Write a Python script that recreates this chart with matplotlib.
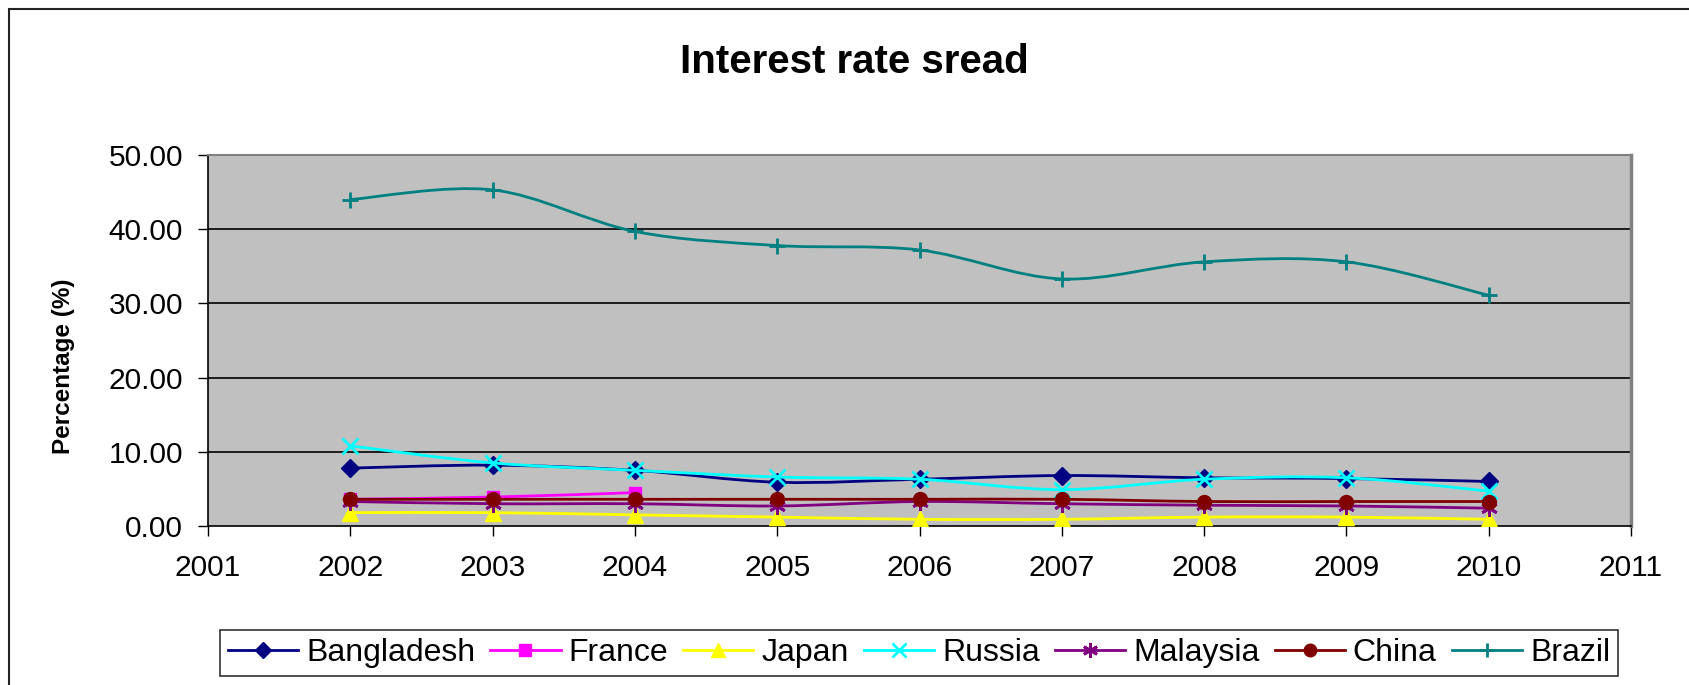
import matplotlib.pyplot as plt
from matplotlib.lines import Line2D
from matplotlib.path import Path
from matplotlib.patches import PathPatch, Rectangle

plt.rcParams["font.family"] = ["Liberation Sans", "DejaVu Sans"]

# === DATA ===
years = [2002, 2003, 2004, 2005, 2006, 2007, 2008, 2009, 2010]
years_france = [2002, 2003, 2004]

bangladesh = [7.8, 8.2, 7.5, 5.9, 6.3, 6.8, 6.5, 6.4, 6.0]
france = [3.6, 3.9, 4.5]
japan = [1.8, 1.8, 1.5, 1.2, 0.9, 0.9, 1.2, 1.2, 0.9]
russia = [10.8, 8.5, 7.5, 6.6, 6.3, 4.9, 6.3, 6.5, 4.7]
malaysia = [3.3, 3.0, 3.0, 2.7, 3.3, 3.0, 2.8, 2.7, 2.4]
china = [3.6, 3.6, 3.6, 3.6, 3.6, 3.6, 3.3, 3.3, 3.3]
brazil = [44.0, 45.3, 39.7, 37.8, 37.2, 33.3, 35.6, 35.6, 31.1]

series = [
    ("Bangladesh", years, bangladesh, "#000080", "D", 9),
    ("France", years_france, france, "#FF00FF", "s", 9),
    ("Japan", years, japan, "#FFFF00", "^", 11),
    ("Russia", years, russia, "#00FFFF", "x", 11),
    ("Malaysia", years, malaysia, "#800080", (6, 2, 0), 12),
    ("China", years, china, "#800000", "o", 10),
    ("Brazil", years, brazil, "#008080", "+", 11),
]


def smooth_path(xs, ys):
    """Excel-achtige smooth line: Catmull-Rom omgezet naar Bezier (CURVE4)."""
    pts = list(zip(xs, ys))
    verts = [pts[0]]
    codes = [Path.MOVETO]
    n = len(pts)
    for i in range(n - 1):
        p0 = pts[i - 1] if i > 0 else pts[i]
        p1 = pts[i]
        p2 = pts[i + 1]
        p3 = pts[i + 2] if i + 2 < n else pts[i + 1]
        c1 = (p1[0] + (p2[0] - p0[0]) / 6, p1[1] + (p2[1] - p0[1]) / 6)
        c2 = (p2[0] - (p3[0] - p1[0]) / 6, p2[1] - (p3[1] - p1[1]) / 6)
        verts += [c1, c2, p2]
        codes += [Path.CURVE4] * 3
    return Path(verts, codes)


W, H = 1690, 685
fig = plt.figure(figsize=(W / 100, H / 100), dpi=100)
fig.patches.append(Rectangle((9 / W, -0.05), 1.2, 1 - 9 / H + 0.05, transform=fig.transFigure,
                             fill=False, edgecolor="#222222", linewidth=1.5))

ax = fig.add_axes([208 / W, 1 - 526 / H, (1631 - 208) / W, (526 - 155) / H])
ax.set_facecolor("#C0C0C0")

for y in [10, 20, 30, 40]:
    ax.axhline(y, color="black", linewidth=1.2, zorder=1)

handles = []
for name, xs, ys, col, mk, ms in series:
    mew = 2 if mk in ("x", "+", (6, 2, 0)) else 1
    ax.add_patch(PathPatch(smooth_path(xs, ys), fill=False, edgecolor=col, linewidth=2, zorder=3))
    ax.plot(xs, ys, linestyle="none", marker=mk, markersize=ms, color=col,
            markeredgewidth=mew, zorder=3)
    handles.append(Line2D([], [], color=col, linewidth=2, marker=mk, markersize=ms * 0.9,
                          markeredgewidth=mew, label=name))

ax.set_xlim(2001, 2011)
ax.set_ylim(0, 50)
ax.set_xticks(range(2001, 2012))
ax.set_yticks(range(0, 51, 10))
ax.set_yticklabels([f"{v:.2f}" for v in range(0, 51, 10)])
ax.tick_params(axis="both", labelsize=21.5, length=7, width=1, direction="out")
ax.tick_params(axis="x", pad=13)
ax.tick_params(axis="y", pad=11)

ax.spines["left"].set_color("black")
ax.spines["bottom"].set_color("black")
ax.spines["left"].set_linewidth(1.2)
ax.spines["bottom"].set_linewidth(1.2)
ax.spines["top"].set_color("#808080")
ax.spines["right"].set_color("#808080")
ax.spines["right"].set_linewidth(2.5)
ax.spines["top"].set_linewidth(1.5)

fig.text(64 / W, 1 - 366 / H, "Percentage (%)", rotation=90, ha="center", va="center",
         fontsize=17.5, fontweight="bold")
fig.text(854 / W, 1 - 62 / H, "Interest rate sread", ha="center", va="center",
         fontsize=29, fontweight="bold")

leg = fig.legend(handles=handles, loc="center", bbox_to_anchor=(919 / W, 1 - 653 / H),
                 ncol=7, fontsize=23, frameon=True, fancybox=False, handlelength=2.2,
                 handletextpad=0.25, columnspacing=0.47, borderpad=0.25, borderaxespad=0)
leg.get_frame().set_edgecolor("black")
leg.get_frame().set_linewidth(1.2)

fig.savefig("out.png", dpi=100)
